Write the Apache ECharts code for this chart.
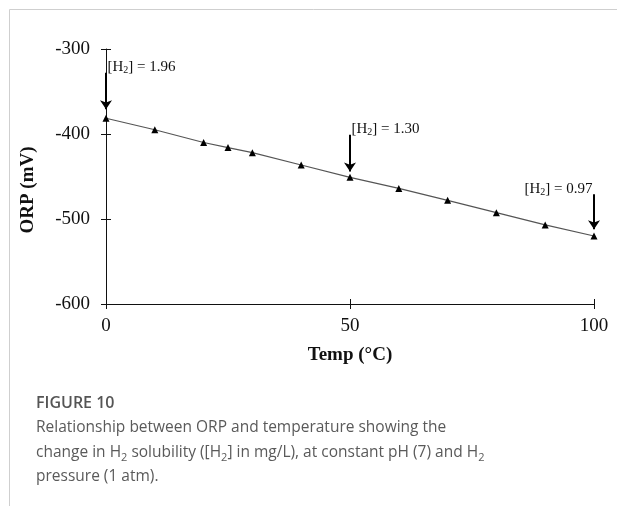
<!DOCTYPE html>
<html><head><meta charset="utf-8">
<script src="https://cdn.jsdelivr.net/npm/echarts@6/dist/echarts.min.js"></script>
<style>html,body{margin:0;padding:0;background:#fff}#c{width:617px;height:506px}</style>
</head><body><div id="c"></div>
<script>
const temps = [0, 10, 20, 25, 30, 40, 50, 60, 70, 80, 90, 100];
const orp = [-381.5, -395, -410, -416, -422, -436.5, -451, -464, -478, -492.5, -507, -520];
const yTicks = [-600, -500, -400, -300];
const xTicks = [0, 50, 100];
const notes = [
  {t: 0, val: '1.96', from: -328, to: -371, labelY: -321, side: 'right'},
  {t: 50, val: '1.30', from: -401, to: -444, labelY: -394, side: 'right'},
  {t: 100, val: '0.97', from: -471, to: -512, labelY: -465, side: 'left'}
];
const serif = '"Liberation Serif", "DejaVu Serif", serif';
const sans = '"Open Sans", "Noto Sans", sans-serif';

const chart = echarts.init(document.getElementById('c'), null, {renderer: 'canvas'});
const axisBase = {
  min: 0, max: 100, interval: 50, type: 'value'
};
const richNote = {
  a: {fontFamily: serif, fontSize: 15, color: '#111', lineHeight: 17},
  s: {fontFamily: serif, fontSize: 10, color: '#111', lineHeight: 17, verticalAlign: 'bottom', padding: [7, 0, 0, 0]}
};
const option = {
  animation: false,
  grid: {left: 106, right: 23, top: 49, bottom: 202},
  xAxis: [
    Object.assign({}, axisBase, {
      position: 'bottom',
      axisLine: {show: true, onZero: false, lineStyle: {color: '#111', width: 1}},
      axisTick: {show: true, length: 5, lineStyle: {color: '#111'}},
      axisLabel: {fontFamily: serif, fontSize: 19, color: '#111', margin: 13,
        customValues: xTicks},
      splitLine: {show: false}
    }),
    Object.assign({}, axisBase, {
      position: 'bottom',
      axisLine: {show: false},
      axisTick: {show: true, inside: true, length: 5, lineStyle: {color: '#111'}},
      axisLabel: {show: false},
      splitLine: {show: false}
    })
  ],
  yAxis: [
    {
      type: 'value', min: -600, max: -300, interval: 100, position: 'left',
      axisLine: {show: true, onZero: false, lineStyle: {color: '#111', width: 1}},
      axisTick: {show: true, length: 5, lineStyle: {color: '#111'}},
      axisLabel: {fontFamily: serif, fontSize: 19, color: '#111', margin: 16},
      splitLine: {show: false}
    },
    {
      type: 'value', min: -600, max: -300, interval: 100, position: 'left',
      axisLine: {show: false},
      axisTick: {show: true, inside: true, length: 5, lineStyle: {color: '#111'}},
      axisLabel: {show: false},
      splitLine: {show: false}
    }
  ],
  series: [
    {
      type: 'line',
      xAxisIndex: 0, yAxisIndex: 0,
      data: temps.map((t, i) => [t, orp[i]]),
      symbol: 'triangle', symbolSize: 7,
      itemStyle: {color: '#000'},
      lineStyle: {color: '#555', width: 1.2},
      markLine: {
        silent: true,
        symbol: ['none', 'arrow'],
        symbolSize: 9,
        lineStyle: {color: '#000', width: 2, type: 'solid', opacity: 1},
        itemStyle: {color: '#000'},
        label: {show: false},
        data: notes.map(n => [{coord: [n.t, n.from]}, {coord: [n.t, n.to]}])
      },
      markPoint: {
        silent: true,
        symbol: 'circle', symbolSize: 1,
        itemStyle: {color: 'rgba(0,0,0,0)'},
        data: notes.map(n => ({
          coord: [n.t, n.labelY],
          label: {
            show: true,
            position: n.side,
            distance: 1,
            formatter: '{a|[H}{s|2}{a|] = ' + n.val + '}',
            rich: richNote
          }
        }))
      }
    }
  ],
  graphic: [
    {type: 'line', shape: {x1: 9.5, y1: 9.5, x2: 617, y2: 9.5}, style: {stroke: '#cfcfcf', lineWidth: 1}},
    {type: 'line', shape: {x1: 9.5, y1: 9.5, x2: 9.5, y2: 506}, style: {stroke: '#cfcfcf', lineWidth: 1}},
    {type: 'text', x: 28, y: 190, rotation: Math.PI / 2, style: {
      text: 'ORP (mV)', font: 'bold 19px ' + serif, fill: '#111',
      textAlign: 'center', textVerticalAlign: 'middle'}},
    {type: 'text', x: 350, y: 355, style: {
      text: 'Temp (°C)', font: 'bold 19px ' + serif, fill: '#111',
      textAlign: 'center', textVerticalAlign: 'middle'}},
    {type: 'text', x: 36, y: 403, style: {
      text: 'FIGURE 10', font: '600 16px ' + sans, fill: '#555',
      textAlign: 'left', textVerticalAlign: 'middle'}},
    {type: 'text', x: 36, y: 428, style: {
      text: 'Relationship between ORP and temperature showing the', font: '15.5px ' + sans, fill: '#5a5a5a',
      textAlign: 'left', textVerticalAlign: 'middle'}},
    {type: 'text', x: 36, y: 453, style: {
      text: '{t|change in H}{s|2}{t| solubility ([H}{s|2}{t|] in mg/L), at constant pH (7) and H}{s|2}',
      fill: '#5a5a5a',
      textAlign: 'left', textVerticalAlign: 'middle',
      rich: {
        t: {fontFamily: sans, fontSize: 15.5, fill: '#5a5a5a', lineHeight: 20},
        s: {fontFamily: sans, fontSize: 11, fill: '#5a5a5a', lineHeight: 20, verticalAlign: 'bottom', padding: [6, 0, 0, 0]}
      }}},
    {type: 'text', x: 36, y: 477, style: {
      text: 'pressure (1 atm).', font: '15.5px ' + sans, fill: '#5a5a5a',
      textAlign: 'left', textVerticalAlign: 'middle'}}
  ]
};
chart.setOption(option);
</script>
</body></html>
